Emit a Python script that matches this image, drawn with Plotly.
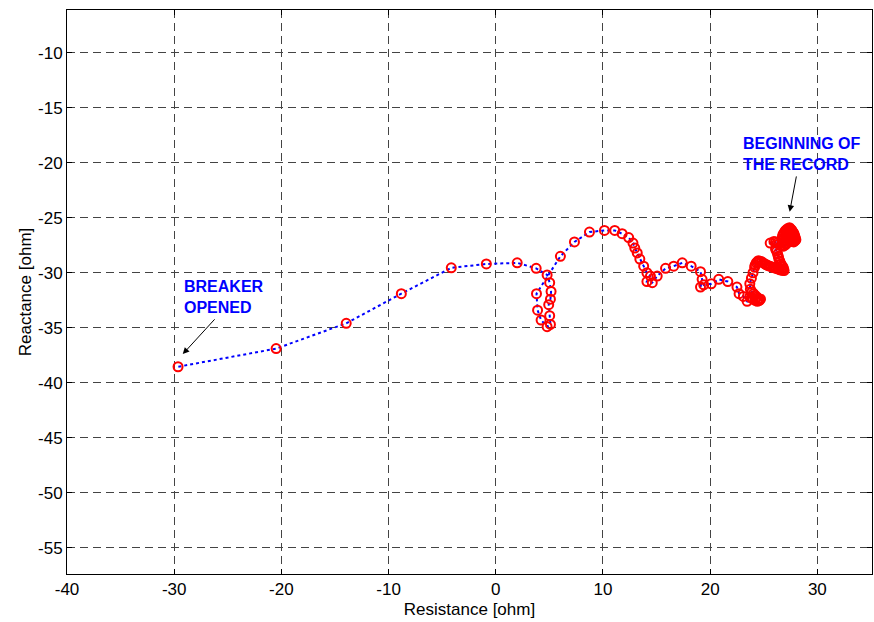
import plotly.graph_objects as go

# Impedance trajectory, from beginning of record to breaker opening
resistance = [
    27.4, 27.5, 27.6, 27.7, 27.8, 27.85, 27.9, 27.95, 28.0, 27.9, 27.8, 27.65, 27.5, 27.4, 27.3,
    27.2, 27.1, 27.15, 27.2, 27.3, 27.4, 27.3, 27.2, 27.1, 27.0, 26.9, 26.8, 26.75, 26.7, 26.8,
    26.9, 27.0, 27.1, 26.95, 26.8, 26.6, 26.4, 26.25, 26.1, 25.6, 25.95, 26.1, 26.2, 26.3,
    26.35, 26.4, 26.5, 26.6, 26.7, 26.8, 26.85, 26.9, 26.75, 26.6, 26.45, 26.3, 26.15, 26.0,
    25.85, 25.7, 25.55, 25.4, 25.25, 25.1, 24.95, 24.8, 24.65, 24.5, 24.4, 24.3, 24.2, 24.15,
    24.0, 23.85, 23.7, 23.75, 23.9, 24.05, 24.2, 24.35, 24.5, 24.6, 24.7, 24.55, 24.4, 24.2,
    24.0, 23.85, 23.7, 23.45, 23.1, 22.7, 22.5, 21.65, 20.8, 20.1, 19.4, 19.1,
    19.25, 19.1, 18.23, 17.4, 16.6, 15.84, 15.06, 14.6, 14.1, 14.43, 14.1, 13.8, 13.44, 13.2,
    12.97, 12.8, 12.4, 11.79, 11.1, 10.14, 8.74, 7.34, 6.03, 3.8, 3.9, 4.23, 4.79, 5.1, 5.03,
    4.94, 5.1, 5.16, 5.03, 4.79, 3.77, 2.0, -0.88, -4.15, -8.81, -13.95, -20.49, -29.64,
]
reactance = [
    -25.9, -26.0, -26.1, -26.25, -26.4, -26.55, -26.7, -26.85, -27.0, -27.1, -27.2, -27.15, -27.1, -27.0, -26.9,
    -26.8, -26.7, -26.55, -26.4, -26.3, -26.2, -26.1, -26.0, -26.1, -26.2, -26.35, -26.5, -26.7, -26.9, -27.05,
    -27.2, -27.3, -27.4, -27.5, -27.6, -27.5, -27.4, -27.3, -27.2, -27.3, -27.15, -27.85, -28.05, -28.3,
    -28.5, -28.7, -28.95, -29.2, -29.35, -29.5, -29.65, -29.8, -29.78, -29.75, -29.7, -29.65, -29.6, -29.55,
    -29.5, -29.45, -29.4, -29.35, -29.28, -29.2, -29.1, -29.0, -28.95, -28.9, -29.0, -29.1, -29.3, -29.5,
    -30.0, -30.5, -31.0, -31.5, -31.75, -31.9, -32.05, -32.2, -32.35, -32.5, -32.4, -32.5, -32.6, -32.5,
    -32.4, -32.3, -32.2, -32.6, -32.15, -31.9, -31.3, -30.8, -30.6, -31.0, -31.1, -31.3,
    -30.6, -29.9, -29.4, -29.1, -29.4, -29.6, -30.3, -30.9, -30.8, -30.3, -30.0, -29.4, -28.75, -28.2,
    -27.75, -27.3, -26.8, -26.45, -26.15, -26.15, -26.3, -27.2, -28.5, -31.9, -33.4, -34.3, -34.9, -34.7, -33.9,
    -32.9, -32.4, -31.7, -30.9, -30.2, -29.6, -29.1, -29.2, -29.55, -31.9, -34.6, -36.9, -38.55,
]

x_ticks = [-40, -30, -20, -10, 0, 10, 20, 30]
y_ticks = [-10, -15, -20, -25, -30, -35, -40, -45, -50, -55]

font_family = "Liberation Sans, Arial, sans-serif"

fig = go.Figure()
fig.add_trace(go.Scatter(
    x=resistance, y=reactance, mode="lines+markers",
    line=dict(color="#0000ff", width=2, dash="dot"),
    marker=dict(symbol="circle-open", size=9, color="#ff0000", line=dict(width=2, color="#ff0000")),
    showlegend=False, hoverinfo="skip",
))

axis_common = dict(
    showline=True, linecolor="black", linewidth=1, mirror="ticks",
    ticks="inside", ticklen=5, tickcolor="black",
    showgrid=True, gridcolor="#444444", griddash="8px,5px", gridwidth=1,
    zeroline=False,
    tickfont=dict(family=font_family, size=17, color="black"),
)

fig.update_xaxes(
    range=[-40, 35.1], tickvals=x_ticks, ticktext=[str(v) for v in x_ticks],
    title=dict(text="Resistance [ohm]", font=dict(family=font_family, size=17, color="black"), standoff=4),
    **axis_common,
)
fig.update_yaxes(
    range=[-57.4, -6.1], tickvals=y_ticks, ticktext=[str(v) for v in y_ticks],
    title=dict(text="Reactance [ohm]", font=dict(family=font_family, size=17, color="black"), standoff=2),
    **axis_common,
)

label_font = dict(family=font_family, size=16, color="#0000ff")
fig.add_annotation(x=-29.3, y=-30.3, xref="x", yref="y", text="<b>BREAKER<br>OPENED</b>",
                   showarrow=False, xanchor="left", yanchor="top", align="left", font=label_font)
fig.add_annotation(x=-29.2, y=-37.4, ax=-26.1, ay=-34.1, xref="x", yref="y", axref="x", ayref="y",
                   text="", showarrow=True, arrowhead=2, arrowsize=1.3, arrowwidth=1, arrowcolor="black", standoff=0)
fig.add_annotation(x=22.9, y=-17.3, xref="x", yref="y", text="<b>BEGINNING OF<br>THE RECORD</b>",
                   showarrow=False, xanchor="left", yanchor="top", align="left", font=label_font)
fig.add_annotation(x=27.42, y=-24.45, ax=28.07, ay=-21.1, xref="x", yref="y", axref="x", ayref="y",
                   text="", showarrow=True, arrowhead=2, arrowsize=1.3, arrowwidth=1, arrowcolor="black", standoff=0)

fig.update_layout(
    width=874, height=622,
    margin=dict(l=67, r=2, t=10, b=48),
    plot_bgcolor="white", paper_bgcolor="white",
    font=dict(family=font_family, color="black"),
)

fig.write_html("out.html")
